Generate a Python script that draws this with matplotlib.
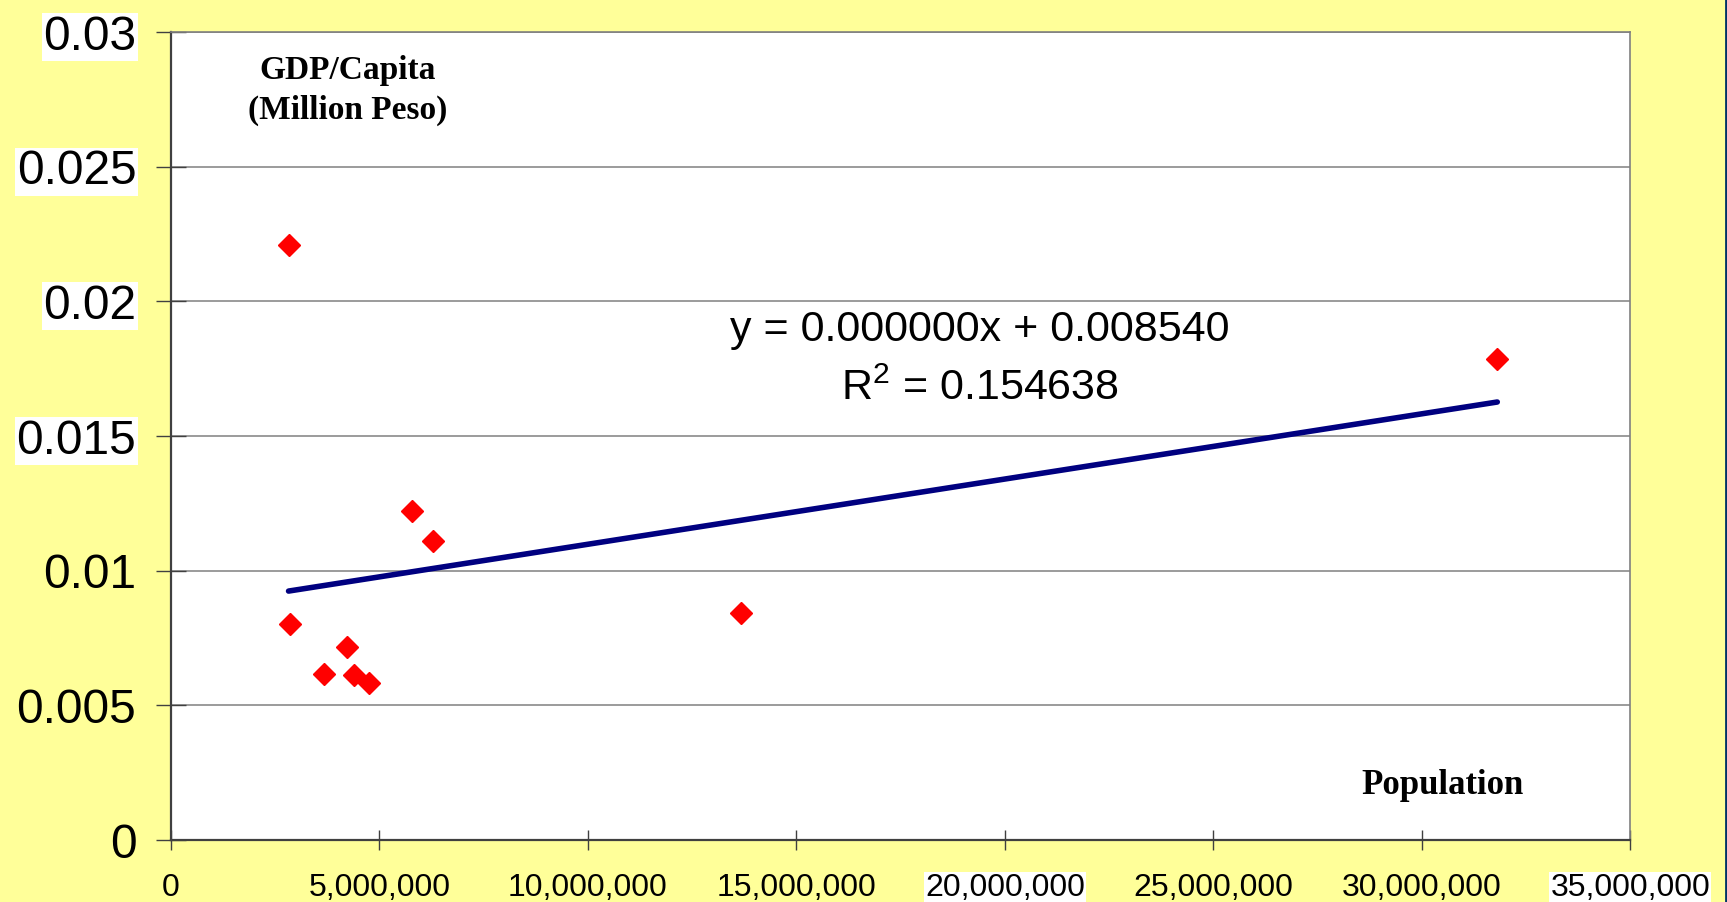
import matplotlib
matplotlib.use('Agg')
import matplotlib.pyplot as plt
from matplotlib.lines import Line2D
from matplotlib.ticker import FuncFormatter
import numpy as np

# province population vs GDP per capita (million peso)
population = [2.82e6, 2.85e6, 3.67e6, 4.22e6, 4.38e6, 4.75e6, 5.78e6, 6.28e6, 13.67e6, 31.81e6]
gdp_per_capita = [0.02211, 0.00801, 0.00617, 0.00715, 0.00613, 0.00584, 0.01222, 0.01112, 0.00842, 0.01786]

y_ticks = [0, 0.005, 0.01, 0.015, 0.02, 0.025, 0.03]
x_ticks = [0, 5e6, 10e6, 15e6, 20e6, 25e6, 30e6, 35e6]
eq_text = 'y = 0.000000x + 0.008540'
r2_text = 'R$^{2}$ = 0.154638'

plt.rcParams.update({
    'font.family': ['Liberation Sans', 'DejaVu Sans'],
    'mathtext.default': 'regular',
})

fig = plt.figure(figsize=(17.27, 9.02), dpi=100, facecolor='#FFFF99')
ax = fig.add_axes([0.099, 0.0687, 0.845, 0.8958])
ax.set_facecolor('white')

# linear trend
slope, intercept = np.polyfit(population, gdp_per_capita, 1)
xs = np.array([min(population), max(population)])
ax.plot(xs, slope * xs + intercept, color='#000080', lw=4, solid_capstyle='round', zorder=3)

ax.plot(population, gdp_per_capita, linestyle='none', marker='D', markersize=11.5,
        color='red', markeredgecolor='red', zorder=4)

ax.set_xlim(0, 35e6)
ax.set_ylim(0, 0.03)
ax.set_xticks(x_ticks)
ax.set_yticks(y_ticks)
ax.xaxis.set_major_formatter(FuncFormatter(lambda v, p: f'{int(v):,}'))
ax.yaxis.set_major_formatter(FuncFormatter(lambda v, p: f'{v:g}'))

ax.grid(axis='y', color='#808080', lw=1.1, zorder=1)
ax.tick_params(axis='y', direction='inout', length=22, width=1, labelsize=34.5, pad=14, color='#404040')
ax.tick_params(axis='x', direction='inout', length=14, width=1, labelsize=23, pad=17, color='#404040')

for s in ['left', 'bottom']:
    ax.spines[s].set_color('#404040')
    ax.spines[s].set_linewidth(1.6)
for s in ['top', 'right']:
    ax.spines[s].set_color('#808080')
    ax.spines[s].set_linewidth(1.2)

# white boxes behind some tick labels
for lab, v in zip(ax.get_yticklabels(), y_ticks):
    if v >= 0.015:
        lab.set_bbox(dict(facecolor='white', edgecolor='none', pad=1))
for lab, v in zip(ax.get_xticklabels(), x_ticks):
    if v in (20e6, 35e6):
        lab.set_bbox(dict(facecolor='white', edgecolor='none', pad=1))

serif = ['Liberation Serif', 'DejaVu Serif']
fig.text(348 / 1727, 1 - 71 / 902, 'GDP/Capita', family=serif, weight='bold',
         fontsize=24, ha='center', va='center')
fig.text(348 / 1727, 1 - 110 / 902, '(Million Peso)', family=serif, weight='bold',
         fontsize=24, ha='center', va='center')
fig.text(1443 / 1727, 1 - 785 / 902, 'Population', family=serif, weight='bold',
         fontsize=25, ha='center', va='center')

fig.text(980 / 1727, 1 - 330 / 902, eq_text, fontsize=31, ha='center', va='center')
fig.text(980 / 1727, 1 - 389 / 902, r2_text, fontsize=31, ha='center', va='center')

fig.add_artist(Line2D([0.9995, 0.9995], [0, 1], transform=fig.transFigure, color='#003366', lw=2))

fig.savefig('out.png', dpi=100, facecolor=fig.get_facecolor())
